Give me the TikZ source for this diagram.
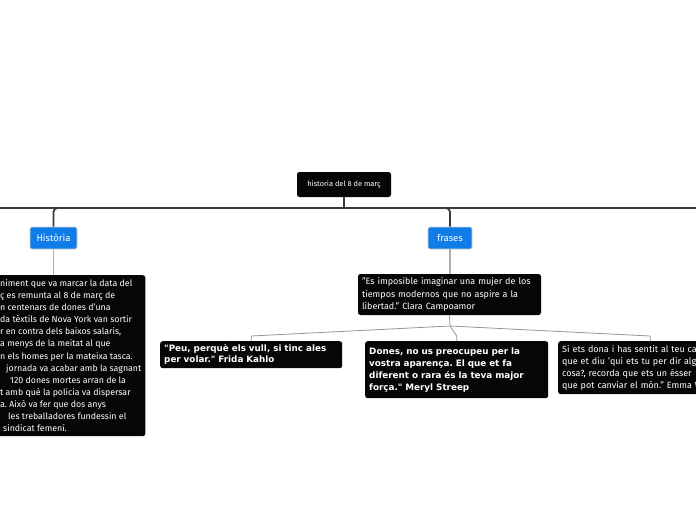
\documentclass[tikz,border=0pt]{standalone}
\usepackage{fontspec}
\setmainfont{Fira Sans}
\newfontfamily\quotefont{DejaVu Sans}
\usetikzlibrary{positioning}
\frenchspacing
\definecolor{boxcol}   {RGB}{6,6,6}
\definecolor{topiccol} {RGB}{16,124,232}
\definecolor{trunkcol} {RGB}{58,58,58}
\definecolor{twigcol}  {RGB}{175,175,175}
\definecolor{branchcol}{RGB}{150,150,150}

\begin{document}
\begin{tikzpicture}[x=1pt, y=-1pt,
    darkbox/.style={fill=boxcol, text=white, rounded corners=2.5pt,
        inner xsep=4pt, inner ysep=2pt, align=left},
    topicbox/.style={fill=topiccol, draw=black!18, line width=0.7pt,
        text=white, rounded corners=2pt, minimum height=22pt,
        font=\fontsize{9.5}{11}\selectfont},
    trunk/.style={draw=trunkcol, line width=1.8pt, rounded corners=4pt},
    twig/.style={draw=twigcol, line width=1.2pt},
    branch/.style={draw=branchcol, line width=0.8pt}]

% Page
\useasboundingbox[fill=white] (0,0) rectangle (696,520);

% Root
\node[darkbox, minimum width=94pt, minimum height=25pt, align=center,
      font=\fontsize{7.4}{9}\selectfont] (root) at (344,184.5)
    {historia del 8 de març};

% ================================================================
% TOPICS --- Història and frases
% ================================================================
\node[topicbox, minimum width=47pt] (hist)   at (53.5,238) {Història};
\node[topicbox, minimum width=44pt] (frases) at (450,238)  {frases};

% Off-page branches
\coordinate (split)    at (344,208);
\coordinate (offleft)  at (-40,240);
\coordinate (offright) at (740,240);

\draw[trunk] (root.south) -- (split);
\draw[trunk] (split) -| (hist.north);
\draw[trunk] (split) -| (frases.north);
\draw[trunk] (split) -| (offleft);
\draw[trunk] (split) -| (offright);

% ================================================================
% HISTÒRIA --- text box (cut at the page edge)
% ================================================================
\node[darkbox, anchor=north west, minimum height=161pt,
      font=\fontsize{8.8}{12.1}\selectfont] (histtext) at (-4,275)
    {niment que va marcar la data del\\
     ç es remunta al 8 de març de\\
     n centenars de dones d'una\\
     da tèxtils de Nova York van sortir\\
     r en contra dels baixos salaris,\\
     a menys de la meitat al que\\
     n els homes per la mateixa tasca.\\
     \hspace*{6pt}jornada va acabar amb la sagnant\\
     \hspace*{10pt}120 dones mortes arran de la\\
     t amb què la policia va dispersar\\
     a. Això va fer que dos anys\\
     \hspace*{8pt}les treballadores fundessin el\\
     \hspace*{3pt}sindicat femení.};

\draw[twig] (hist.south) -- (hist.south |- histtext.north);

% ================================================================
% FRASES --- quotes
% ================================================================
\node[darkbox, text width=175pt, minimum width=183pt, minimum height=41pt,
      font=\fontsize{9}{12.5}\selectfont] (clara) at (449.5,294.5)
    {"Es imposible imaginar una mujer de los\\
     tiempos modernos que no aspire a la\\
     libertad." Clara Campoamor};

\draw[twig] (frases.south) -- (frases.south |- clara.north);

\node[darkbox, anchor=north west, text width=174pt, minimum width=182pt,
      minimum height=27pt, font=\quotefont\bfseries\fontsize{8.8}{11}\selectfont]
    (frida) at (160,341)
    {"Peu, perquè els vull, si tinc ales\\
     per volar." Frida Kahlo};

\node[darkbox, anchor=north west, text width=175pt, minimum width=183pt,
      minimum height=57pt, font=\quotefont\bfseries\fontsize{8.8}{12}\selectfont]
    (meryl) at (365,341)
    {Dones, no us preocupeu per la\\
     vostra aparença. El que et fa\\
     diferent o rara és la teva major\\
     força." Meryl Streep};

\node[darkbox, anchor=north west, text width=176pt, minimum width=184pt,
      minimum height=53pt, font=\fontsize{9}{12}\selectfont]
    (emma) at (558,341)
    {Si ets dona i has sentit al teu ca\\
     que et diu 'qui ets tu per dir alg\\
     cosa?, recorda que ets un ésser\\
     que pot canviar el món." Emma W};

\coordinate (qsplit) at (450,326);
\draw[branch] (clara.south) -- (qsplit);
\draw[branch] (qsplit) -- ([yshift=5pt]frida.north) -- (frida.north);
\draw[branch] (qsplit) -- ([yshift=5pt]meryl.north) -- (meryl.north);
\draw[branch] (qsplit) -- ([yshift=5pt]emma.north)  -- (emma.north);

\end{tikzpicture}
\end{document}
